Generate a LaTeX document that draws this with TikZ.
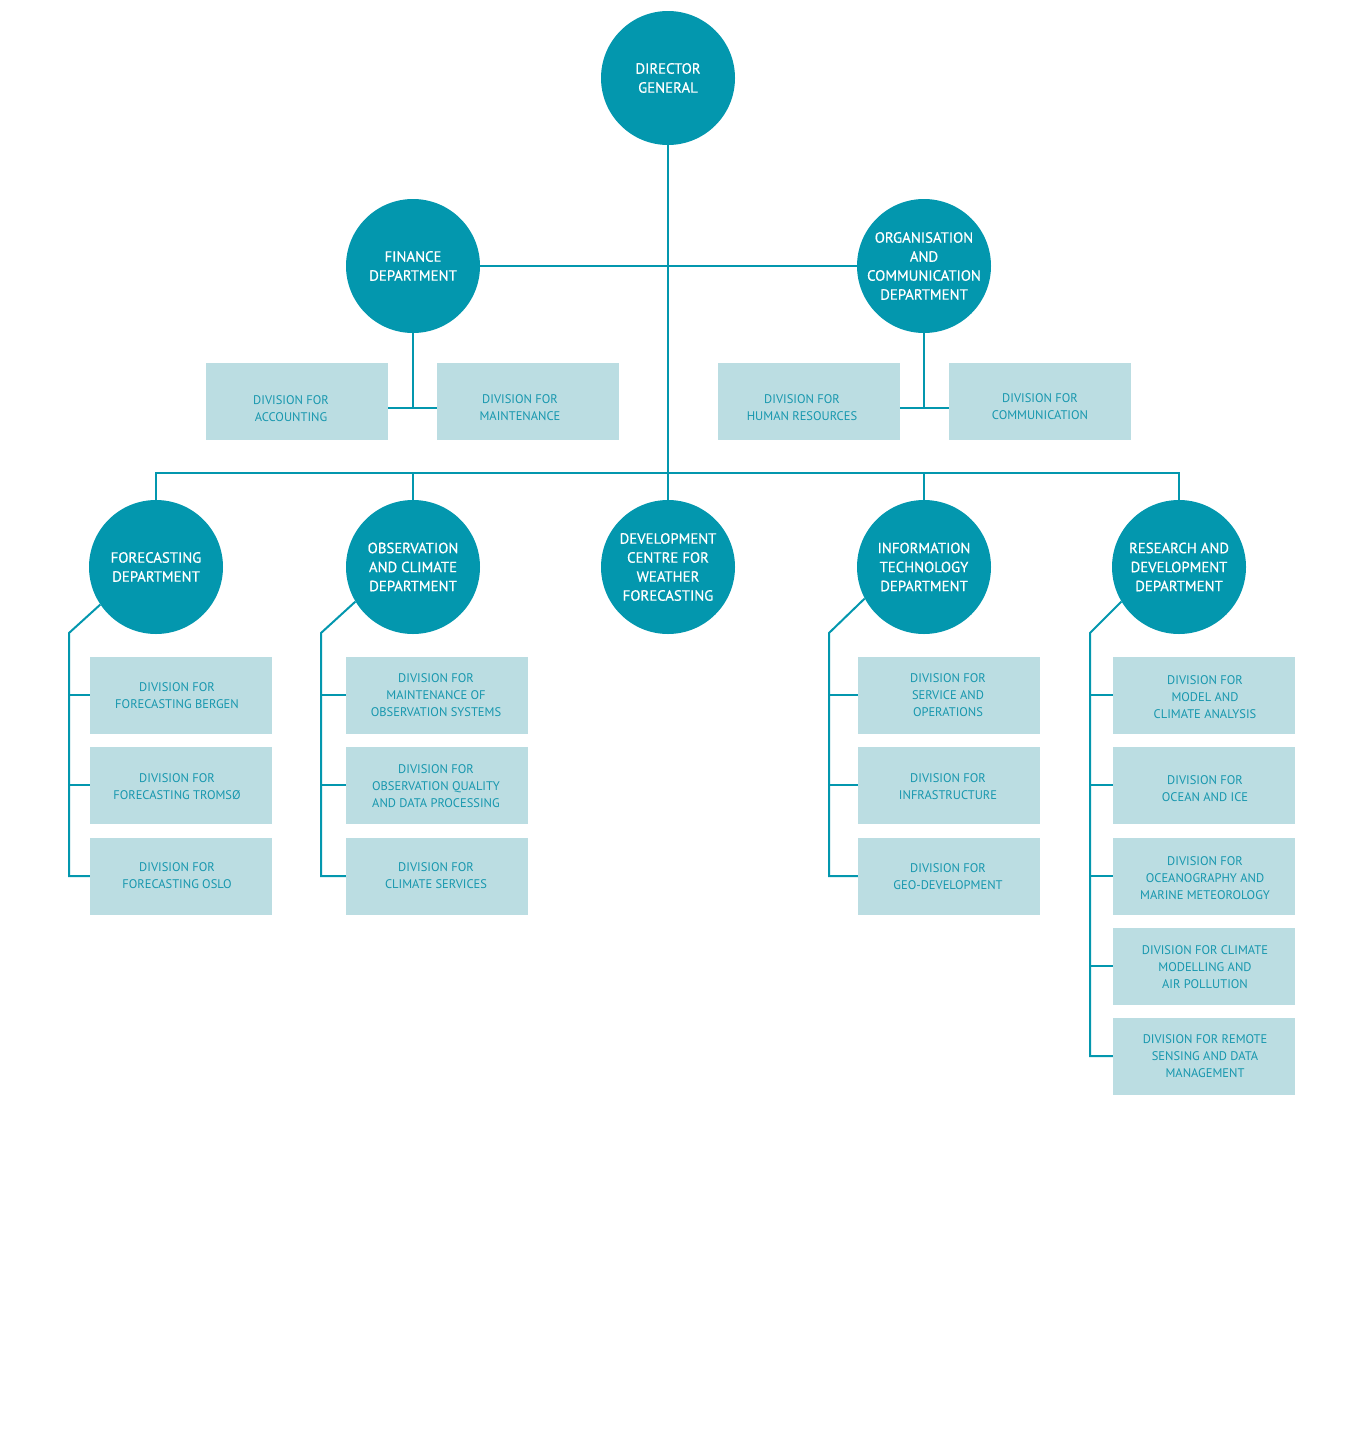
\documentclass[tikz,border=0pt]{standalone}
\usepackage{fontspec}
\setmainfont{PT Sans}
\newfontfamily\circfont{PT Sans}[FakeBold=0.6]
\definecolor{teal}{HTML}{0397AE}
\definecolor{boxfill}{HTML}{BBDDE2}
\definecolor{boxtext}{HTML}{1797AE}
\begin{document}
\begin{tikzpicture}[x=1pt,y=-1pt,
  dept/.style={circle,fill=teal,draw=none,minimum size=134pt,inner sep=0pt,text=white,align=center,font=\circfont\fontsize{14.8}{19}\selectfont},
  divbox/.style={rectangle,fill=boxfill,draw=none,minimum width=182pt,minimum height=77pt,inner sep=0pt},
  divtext/.style={text=boxtext,align=center,inner sep=0pt,font=\fontsize{12.5}{17}\selectfont},
  conn/.style={draw=teal,line width=2pt}]
\useasboundingbox (0,0) rectangle (1366,1451);
% circles
\node[dept] (dg) at (668,78) {DIRECTOR\\GENERAL};
\node[dept] (fin) at (413,266) {FINANCE\\DEPARTMENT};
\node[dept] (org) at (924,266) {ORGANISATION\\AND\\COMMUNICATION\\DEPARTMENT};
\node[dept] (fc) at (156,567) {FORECASTING\\DEPARTMENT};
\node[dept] (obs) at (413,567) {OBSERVATION\\AND CLIMATE\\DEPARTMENT};
\node[dept] (dev) at (668,567) {DEVELOPMENT\\CENTRE FOR\\WEATHER\\FORECASTING};
\node[dept] (it) at (924,567) {INFORMATION\\TECHNOLOGY\\DEPARTMENT};
\node[dept] (rd) at (1179,567) {RESEARCH AND\\DEVELOPMENT\\DEPARTMENT};
% top boxes
\node[divbox] (acc) at (297,401.5) {};
\node[divtext] (acct) at (291,409) {DIVISION FOR\\ACCOUNTING};
\node[divbox] (mnt) at (528,401.5) {};
\node[divtext] (mntt) at (520,408) {DIVISION FOR\\MAINTENANCE};
\node[divbox] (hr) at (809,401.5) {};
\node[divtext] (hrt) at (802,408) {DIVISION FOR\\HUMAN RESOURCES};
\node[divbox] (com) at (1040,401.5) {};
\node[divtext] (comt) at (1040,407) {DIVISION FOR\\COMMUNICATION};
% forecasting
\node[divbox] (fc1) at (181,695) {};
\node[divtext] (fc1t) at (177,695.5) {DIVISION FOR\\FORECASTING BERGEN};
\node[divbox] (fc2) at (181,785) {};
\node[divtext] (fc2t) at (177,787) {DIVISION FOR\\FORECASTING TROMSØ};
\node[divbox] (fc3) at (181,876) {};
\node[divtext] (fc3t) at (177,876) {DIVISION FOR\\FORECASTING OSLO};
% observation
\node[divbox] (ob1) at (437,695) {};
\node[divtext] (ob1t) at (436,695) {DIVISION FOR\\MAINTENANCE OF\\OBSERVATION SYSTEMS};
\node[divbox] (ob2) at (437,785) {};
\node[divtext] (ob2t) at (436,786) {DIVISION FOR\\OBSERVATION QUALITY\\AND DATA PROCESSING};
\node[divbox] (ob3) at (437,876) {};
\node[divtext] (ob3t) at (436,876) {DIVISION FOR\\CLIMATE SERVICES};
% IT
\node[divbox] (it1) at (949,695) {};
\node[divtext] (it1t) at (948,695.5) {DIVISION FOR\\SERVICE AND\\OPERATIONS};
\node[divbox] (it2) at (949,785) {};
\node[divtext] (it2t) at (948,787) {DIVISION FOR\\INFRASTRUCTURE};
\node[divbox] (it3) at (949,876) {};
\node[divtext] (it3t) at (948,877) {DIVISION FOR\\GEO-DEVELOPMENT};
% R&D
\node[divbox] (rd1) at (1204,695) {};
\node[divtext] (rd1t) at (1205,697) {DIVISION FOR\\MODEL AND\\CLIMATE ANALYSIS};
\node[divbox] (rd2) at (1204,785) {};
\node[divtext] (rd2t) at (1205,789) {DIVISION FOR\\OCEAN AND ICE};
\node[divbox] (rd3) at (1204,876) {};
\node[divtext] (rd3t) at (1205,878) {DIVISION FOR\\OCEANOGRAPHY AND\\MARINE METEOROLOGY};
\node[divbox] (rd4) at (1204,966) {};
\node[divtext] (rd4t) at (1205,967) {DIVISION FOR CLIMATE\\MODELLING AND\\AIR POLLUTION};
\node[divbox] (rd5) at (1204,1056) {};
\node[divtext] (rd5t) at (1205,1056) {DIVISION FOR REMOTE\\SENSING AND DATA\\MANAGEMENT};
% coordinates
\coordinate (bus) at (668,473);
\coordinate (finj) at (413,408);
\coordinate (orgj) at (924,408);
\coordinate (fcb) at (69,633);
\coordinate (obb) at (321,633);
\coordinate (itb) at (829,633);
\coordinate (rdb) at (1090,633);
% connectors
\draw[conn] (dg.south) -- (bus);
\draw[conn] (fin.east) -- (org.west);
\draw[conn] (fin.south) -- (finj);
\draw[conn] (acc.east |- finj) -- (mnt.west |- finj);
\draw[conn] (org.south) -- (orgj);
\draw[conn] (hr.east |- orgj) -- (com.west |- orgj);
\draw[conn] (fc.north) -- (fc.north |- bus) -- (rd.north |- bus) -- (rd.north);
\draw[conn] (obs.north |- bus) -- (obs.north);
\draw[conn] (it.north |- bus) -- (it.north);
\draw[conn] (dev.north |- bus) -- (dev.north);
% forecasting tree
\draw[conn] (fc.214) -- (fcb) |- (fc3.west);
\draw[conn] (fcb |- fc1.west) -- (fc1.west);
\draw[conn] (fcb |- fc2.west) -- (fc2.west);
% observation tree
\draw[conn] (obs.211) -- (obb) |- (ob3.west);
\draw[conn] (obb |- ob1.west) -- (ob1.west);
\draw[conn] (obb |- ob2.west) -- (ob2.west);
% IT tree
\draw[conn] (it.208) -- (itb) |- (it3.west);
\draw[conn] (itb |- it1.west) -- (it1.west);
\draw[conn] (itb |- it2.west) -- (it2.west);
% R&D tree
\draw[conn] (rd.211) -- (rdb) |- (rd5.west);
\draw[conn] (rdb |- rd1.west) -- (rd1.west);
\draw[conn] (rdb |- rd2.west) -- (rd2.west);
\draw[conn] (rdb |- rd3.west) -- (rd3.west);
\draw[conn] (rdb |- rd4.west) -- (rd4.west);
\end{tikzpicture}
\end{document}
